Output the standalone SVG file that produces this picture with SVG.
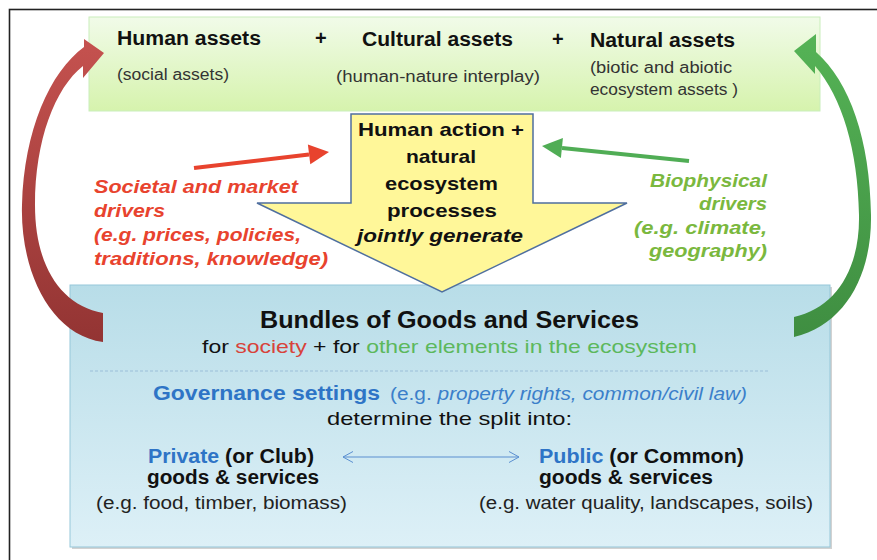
<svg xmlns="http://www.w3.org/2000/svg" width="877" height="560" viewBox="0 0 877 560">
<defs>
<linearGradient id="gGreen" x1="0" y1="0" x2="0" y2="1"><stop offset="0" stop-color="#f1fbe9"/><stop offset="1" stop-color="#d6f3ad"/></linearGradient>
<linearGradient id="gBlue" x1="0" y1="0" x2="0" y2="1"><stop offset="0" stop-color="#b8dde8"/><stop offset="1" stop-color="#ddf0f7"/></linearGradient>
<linearGradient id="gRed" x1="0" y1="0" x2="0" y2="1"><stop offset="0" stop-color="#c5524f"/><stop offset="1" stop-color="#933433"/></linearGradient>
<linearGradient id="gGr" x1="0" y1="0" x2="0" y2="1"><stop offset="0" stop-color="#55b356"/><stop offset="1" stop-color="#3f8e41"/></linearGradient>
<marker id="openHead" viewBox="0 0 10 12" refX="10" refY="6" markerWidth="10" markerHeight="12" markerUnits="userSpaceOnUse" orient="auto-start-reverse"><path d="M0,0.5 L10,6 L0,11.5" fill="none" stroke="#5b8fd0" stroke-width="1"/></marker>
</defs>
<style>
text{font-family:"Liberation Sans",Arial,sans-serif;}
.t{font-weight:bold;font-size:20px;fill:#111;}
.s{font-size:16px;fill:#333;}
.a{font-weight:bold;font-size:18.5px;fill:#111;}
.r{font-weight:bold;font-style:italic;font-size:17.5px;fill:#e8432e;}
.g{font-weight:bold;font-style:italic;font-size:17.5px;fill:#7ab83e;}
.bt{font-weight:bold;font-size:23px;fill:#111;}
.bs{font-size:19px;fill:#111;}
.k{font-weight:bold;font-size:19.5px;fill:#111;}
.e{font-size:17.5px;fill:#222;}
.blue{fill:#2e74c6;}
</style>
<rect id="frame" x="9.5" y="9.5" width="900" height="600" fill="#fff" stroke="#222" stroke-width="1.6"/>
<g id="assets">
<rect x="89" y="17" width="731" height="94" fill="url(#gGreen)" stroke="#c9eebb" stroke-width="1"/>
<text class="t" x="117" y="45" textLength="144" lengthAdjust="spacingAndGlyphs">Human assets</text>
<text class="t" x="315" y="45">+</text>
<text class="t" x="362" y="46" textLength="151" lengthAdjust="spacingAndGlyphs">Cultural assets</text>
<text class="t" x="552" y="46">+</text>
<text class="t" x="590" y="47" textLength="145" lengthAdjust="spacingAndGlyphs">Natural assets</text>
<text class="s" x="117" y="80" textLength="112" lengthAdjust="spacingAndGlyphs">(social assets)</text>
<text class="s" x="336" y="82" textLength="204" lengthAdjust="spacingAndGlyphs">(human-nature interplay)</text>
<text class="s" x="590" y="73" textLength="142" lengthAdjust="spacingAndGlyphs">(biotic and abiotic</text>
<text class="s" x="590" y="95" textLength="148" lengthAdjust="spacingAndGlyphs">ecosystem assets )</text>
</g>
<g id="goods">
<rect x="72" y="287" width="760" height="262" fill="#b4b4b4" opacity="0.6"/>
<rect x="70" y="285" width="760" height="262" fill="url(#gBlue)" stroke="#95c7d9" stroke-width="1"/>
<text class="bt" x="260" y="328" textLength="379" lengthAdjust="spacingAndGlyphs">Bundles of Goods and Services</text>
<text class="bs" x="202" y="353" textLength="495" lengthAdjust="spacingAndGlyphs">for <tspan fill="#d8423a">society</tspan> + for <tspan fill="#5cb85c">other elements in the ecosystem</tspan></text>
<line x1="90" y1="371" x2="769" y2="371" stroke="#9bbfd9" stroke-width="1" stroke-dasharray="3 2"/>
<text class="k blue" x="153" y="400" textLength="227" lengthAdjust="spacingAndGlyphs" style="font-size:20px">Governance settings</text>
<text x="390" y="400" textLength="357" lengthAdjust="spacingAndGlyphs" style="font-size:18px;fill:#3b7fca">(e.g. <tspan font-style="italic">property rights, common/civil law)</tspan></text>
<text class="bs" x="327" y="425" textLength="245" lengthAdjust="spacingAndGlyphs">determine the split into:</text>
<text class="k" x="148" y="463" textLength="166" lengthAdjust="spacingAndGlyphs"><tspan class="blue">Private</tspan> (or Club)</text>
<text class="k" x="147" y="484" textLength="172" lengthAdjust="spacingAndGlyphs">goods &amp; services</text>
<text class="e" x="96" y="509" textLength="251" lengthAdjust="spacingAndGlyphs">(e.g. food, timber, biomass)</text>
<text class="k" x="539" y="463" textLength="205" lengthAdjust="spacingAndGlyphs"><tspan class="blue">Public</tspan> (or Common)</text>
<text class="k" x="539" y="484" textLength="174" lengthAdjust="spacingAndGlyphs">goods &amp; services</text>
<text class="e" x="479" y="509" textLength="334" lengthAdjust="spacingAndGlyphs">(e.g. water quality, landscapes, soils)</text>
</g>
<g id="action">
<polygon points="351,114 533,114 533,203 627,203 442,292 257,203 351,203" fill="#fff799" stroke="#4f6f9f" stroke-width="1.5" stroke-linejoin="miter"/>
<text class="a" x="358" y="136" textLength="166" lengthAdjust="spacingAndGlyphs">Human action +</text>
<text class="a" x="406" y="163" textLength="70" lengthAdjust="spacingAndGlyphs">natural</text>
<text class="a" x="385" y="190" textLength="113" lengthAdjust="spacingAndGlyphs">ecosystem</text>
<text class="a" x="387" y="217" textLength="110" lengthAdjust="spacingAndGlyphs">processes</text>
<text class="a" x="357" y="242" textLength="166" lengthAdjust="spacingAndGlyphs" font-style="italic">jointly generate</text>
</g>
<g id="societal-drivers">
<text class="r" x="94" y="193" textLength="204" lengthAdjust="spacingAndGlyphs">Societal and market</text>
<text class="r" x="94" y="217" textLength="71" lengthAdjust="spacingAndGlyphs">drivers</text>
<text class="r" x="94" y="241" textLength="207" lengthAdjust="spacingAndGlyphs">(e.g. prices, policies,</text>
<text class="r" x="94" y="265" textLength="234" lengthAdjust="spacingAndGlyphs">traditions, knowledge)</text>
</g>
<g id="biophysical-drivers">
<text class="g" x="650" y="187" textLength="117" lengthAdjust="spacingAndGlyphs">Biophysical</text>
<text class="g" x="699" y="210" textLength="68" lengthAdjust="spacingAndGlyphs">drivers</text>
<text class="g" x="634" y="234" textLength="133" lengthAdjust="spacingAndGlyphs">(e.g. climate,</text>
<text class="g" x="649" y="257" textLength="118" lengthAdjust="spacingAndGlyphs">geography)</text>
</g>
<g id="connectors">
<path d="M103,342 C50,335 20,270 22,205 C24,130 50,72 84,47 L84,39 L104,53 L83,78 L83,66 C55,88 35,140 35,205 C35,265 60,305 103,313 Z" fill="url(#gRed)"/>
<path d="M794,337 C845,325 872,275 871,215 C870,140 850,82 816,52 L816,34 L794,51 L815,74 L815,66 C842,97 858,150 859,215 C860,270 835,308 794,317 Z" fill="url(#gGr)"/>
<line x1="194" y1="168" x2="309" y2="154.4" stroke="#e8432e" stroke-width="4"/>
<polygon points="329,152 310.3,164.3 307.9,144.5" fill="#e8432e"/>
<line x1="689" y1="161" x2="562" y2="148" stroke="#50ad55" stroke-width="4"/>
<polygon points="542,146 562.9,138.1 560.9,157.9" fill="#50ad55"/>
<line x1="343" y1="457" x2="519" y2="457" stroke="#5b8fd0" stroke-width="1" marker-start="url(#openHead)" marker-end="url(#openHead)"/>
</g>
</svg>
